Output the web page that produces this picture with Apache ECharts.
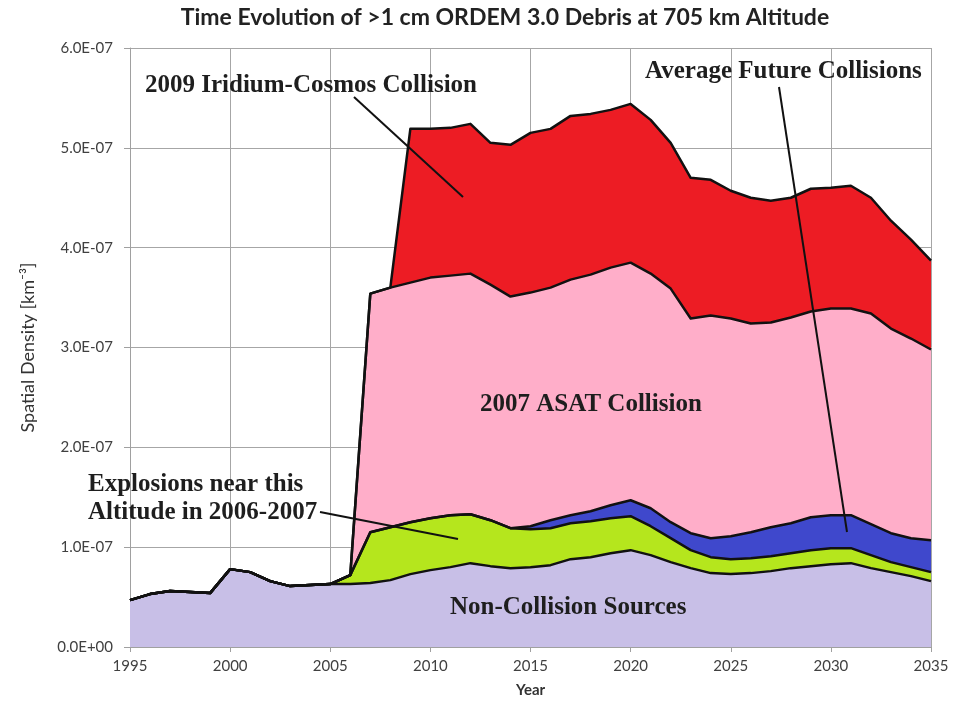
<!DOCTYPE html>
<html>
<head>
<meta charset="utf-8">
<title>Time Evolution of >1 cm ORDEM 3.0 Debris at 705 km Altitude</title>
<script src="https://cdn.jsdelivr.net/npm/echarts@6/dist/echarts.min.js"></script>
<style>
  html, body { margin: 0; padding: 0; background: #fff; }
  #main { width: 959px; height: 703px; }
</style>
</head>
<body>
<div id="main"></div>
<script>
// spatial density per source, in units of 1E-07 km^-3
const years = ['1995', '1996', '1997', '1998', '1999', '2000', '2001', '2002', '2003', '2004',
  '2005', '2006', '2007', '2008', '2009', '2010', '2011', '2012', '2013', '2014',
  '2015', '2016', '2017', '2018', '2019', '2020', '2021', '2022', '2023', '2024',
  '2025', '2026', '2027', '2028', '2029', '2030', '2031', '2032', '2033', '2034', '2035']

const nonCollision = [0.47, 0.53, 0.56, 0.55, 0.54, 0.78, 0.75, 0.66, 0.61, 0.62,
  0.63, 0.63, 0.64, 0.67, 0.73, 0.77, 0.80, 0.84, 0.81, 0.79,
  0.80, 0.82, 0.88, 0.90, 0.94, 0.97, 0.92, 0.85, 0.79, 0.74,
  0.73, 0.74, 0.76, 0.79, 0.81, 0.83, 0.84, 0.79, 0.75, 0.71, 0.66]

const explosions = [0, 0, 0, 0, 0, 0, 0, 0, 0, 0,
  0, 0.09, 0.51, 0.53, 0.52, 0.52, 0.52, 0.49, 0.46, 0.40,
  0.38, 0.37, 0.36, 0.36, 0.35, 0.34, 0.29, 0.24, 0.18, 0.16,
  0.15, 0.15, 0.15, 0.15, 0.16, 0.16, 0.15, 0.13, 0.10, 0.09, 0.09]

const futureCollisions = [0, 0, 0, 0, 0, 0, 0, 0, 0, 0,
  0, 0, 0, 0, 0, 0, 0, 0, 0, 0,
  0.03, 0.08, 0.08, 0.10, 0.13, 0.16, 0.18, 0.16, 0.17, 0.19,
  0.23, 0.26, 0.29, 0.30, 0.33, 0.33, 0.33, 0.31, 0.29, 0.29, 0.32]

const asat2007 = [0, 0, 0, 0, 0, 0, 0, 0, 0, 0,
  0, 0, 2.39, 2.40, 2.40, 2.41, 2.40, 2.41, 2.36, 2.32,
  2.34, 2.33, 2.36, 2.37, 2.38, 2.38, 2.35, 2.34, 2.15, 2.23,
  2.18, 2.09, 2.05, 2.06, 2.06, 2.07, 2.07, 2.11, 2.05, 2.00, 1.91]

const iridiumCosmos = [0, 0, 0, 0, 0, 0, 0, 0, 0, 0,
  0, 0, 0, 0, 1.54, 1.49, 1.48, 1.50, 1.42, 1.52,
  1.60, 1.59, 1.64, 1.61, 1.58, 1.59, 1.54, 1.46, 1.41, 1.36,
  1.28, 1.26, 1.22, 1.20, 1.23, 1.21, 1.23, 1.16, 1.08, 0.99, 0.89]

const yTicks = ['0.0E+00', '1.0E-07', '2.0E-07', '3.0E-07', '4.0E-07', '5.0E-07', '6.0E-07']

const layers = [
  { name: 'Non-Collision Sources', data: nonCollision, color: '#c8bfe7' },
  { name: 'Explosions', data: explosions, color: '#b5e61d' },
  { name: 'Average Future Collisions', data: futureCollisions, color: '#3f48cc' },
  { name: '2007 ASAT Collision', data: asat2007, color: '#ffaec9' },
  { name: '2009 Iridium-Cosmos Collision', data: iridiumCosmos, color: '#ed1c24' }
]

const series = []
// filled bands first, then the black edges on top so no edge gets half covered
layers.forEach(l => {
  series.push({
    name: l.name,
    type: 'line',
    stack: 'fill',
    data: l.data,
    symbol: 'none',
    lineStyle: { width: 0 },
    areaStyle: { color: l.color, opacity: 1 },
    z: 2
  })
})
layers.forEach(l => {
  series.push({
    name: l.name + ' edge',
    type: 'line',
    stack: 'edge',
    data: l.data,
    symbol: 'none',
    lineStyle: { color: '#111', width: 2.5, join: 'round' },
    z: 3
  })
})

const noteStyle = {
  fill: '#1e1e1e',
  font: 'bold 25px "Liberation Serif", serif',
  shadowColor: 'rgba(0,0,0,0.3)',
  shadowBlur: 2,
  shadowOffsetX: 1,
  shadowOffsetY: 1
}
const note = (text, x, y) => ({
  type: 'text', x: x, y: y, z: 10,
  style: Object.assign({ text: text, verticalAlign: 'middle' }, noteStyle)
})
const pointer = (x1, y1, x2, y2) => ({
  type: 'line', z: 10,
  shape: { x1: x1, y1: y1, x2: x2, y2: y2 },
  style: { stroke: '#111', lineWidth: 2 }
})

const chart = echarts.init(document.getElementById('main'))
const option = {
  animation: false,
  backgroundColor: '#fff',
  grid: { left: 130, right: 28, top: 48, bottom: 56 },
  xAxis: {
    type: 'category',
    data: years,
    boundaryGap: false,
    name: 'Year',
    nameLocation: 'middle',
    nameGap: 36,
    nameTextStyle: { fontFamily: 'Lato', fontWeight: 'bold', fontSize: 15, color: '#333' },
    axisLine: { lineStyle: { color: '#a0a0a0' } },
    axisTick: { show: true, interval: 4, length: 5, lineStyle: { color: '#a0a0a0' } },
    axisLabel: { interval: 4, fontFamily: 'Lato', fontSize: 15, color: '#404040', margin: 12 },
    splitLine: { show: true, interval: 4, lineStyle: { color: '#a6a6a6', width: 1 } }
  },
  yAxis: {
    type: 'value',
    min: 0,
    max: 6,
    interval: 1,
    name: 'Spatial Density [km⁻³]',
    nameLocation: 'middle',
    nameGap: 93,
    nameTextStyle: { fontFamily: 'Lato', fontSize: 18, color: '#333' },
    axisLine: { show: true, lineStyle: { color: '#a0a0a0' } },
    axisTick: { show: true, length: 6, lineStyle: { color: '#a0a0a0' } },
    axisLabel: {
      fontFamily: 'Lato', fontSize: 15, color: '#404040', margin: 17,
      formatter: v => yTicks[Math.round(v)]
    },
    splitLine: { show: true, lineStyle: { color: '#a6a6a6', width: 1 } }
  },
  series: series,
  graphic: [
    {
      type: 'text', x: 505, y: 18, z: 10,
      style: {
        text: 'Time Evolution of >1 cm ORDEM 3.0 Debris at 705 km Altitude',
        font: 'bold 23px Lato, sans-serif', fill: '#222',
        align: 'center', verticalAlign: 'middle'
      }
    },
    note('2009 Iridium-Cosmos Collision', 145, 86),
    note('Average Future Collisions', 645, 72),
    note('2007 ASAT Collision', 480, 405),
    note('Explosions near this', 88, 485),
    note('Altitude in 2006-2007', 88, 513),
    note('Non-Collision Sources', 450, 608),
    pointer(354, 97, 463, 197),
    pointer(779, 87, 847, 532),
    pointer(320, 512, 458, 539)
  ]
}
chart.setOption(option)
window.addEventListener('resize', () => {
  chart.resize()
})
</script>
</body>
</html>
